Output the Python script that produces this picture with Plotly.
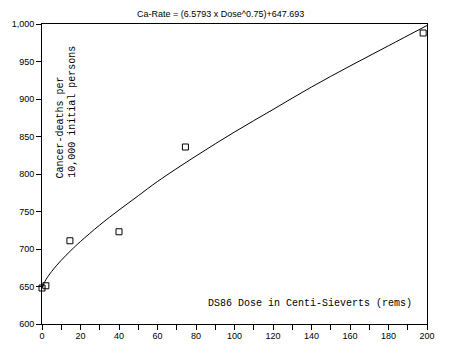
import plotly.graph_objects as go

# Observed data points (dose in cSv, cancer deaths per 10,000)
obs_dose = [0, 2, 14.5, 40, 74.5, 198]
obs_rate = [648, 651, 711, 723, 836, 988]

# Fitted curve values
fit_dose = [0, 1, 2, 5, 10, 15, 20, 30, 40, 50, 60, 80, 100, 120, 140, 160, 180, 200]
fit_rate = [648, 654, 659, 670, 685, 698, 710, 732, 752, 771, 790, 824, 856, 886, 916, 944, 971, 998]

y_ticks = [600, 650, 700, 750, 800, 850, 900, 950, 1000]
y_labels = ["600", "650", "700", "750", "800", "850", "900", "950", "1,000"]
x_ticks = [0, 20, 40, 60, 80, 100, 120, 140, 160, 180, 200]

title_text = "Ca-Rate = (6.5793 x Dose^0.75)+647.693"
x_title = "DS86 Dose in Centi-Sieverts (rems)"
y_title1 = "Cancer-deaths per"
y_title2 = "10,000 initial persons"

fig = go.Figure()
fig.add_trace(go.Scatter(x=fit_dose, y=fit_rate, mode="lines",
                         line=dict(color="black", width=1, shape="spline"),
                         showlegend=False, hoverinfo="skip"))
fig.add_trace(go.Scatter(x=obs_dose, y=obs_rate, mode="markers",
                         marker=dict(symbol="square-open", size=6, color="black",
                                     line=dict(width=1, color="black")),
                         showlegend=False, cliponaxis=False))

tick_font = dict(family="Liberation Sans", size=9, color="black")
mono = dict(family="Liberation Mono", size=10, color="black")

fig.update_layout(
    width=452, height=354,
    margin=dict(l=38, r=25, t=24, b=30),
    paper_bgcolor="white", plot_bgcolor="white",
    xaxis=dict(range=[0, 200], tickvals=x_ticks, ticks="outside", ticklen=5,
               tickwidth=1, tickcolor="black", showline=True, linecolor="black",
               linewidth=1, mirror=True, showgrid=False, zeroline=False,
               tickfont=tick_font, ticklabelstandoff=-2,
               minor=dict(dtick=10, tick0=0, ticks="outside", ticklen=5,
                          tickcolor="black", tickwidth=1, showgrid=False)),
    yaxis=dict(range=[600, 1000], tickvals=y_ticks, ticktext=y_labels,
               ticks="outside", ticklen=5, tickwidth=1, tickcolor="black",
               showline=True, linecolor="black", linewidth=1, mirror=True,
               showgrid=False, zeroline=False, tickfont=tick_font),
    annotations=[
        dict(text=title_text, xref="paper", yref="paper", x=0.463, y=1.033,
             xanchor="center", yanchor="middle", showarrow=False,
             font=dict(family="Liberation Sans", size=9, color="black")),
        dict(text=x_title, xref="paper", yref="paper", x=0.697, y=0.0667,
             xanchor="center", yanchor="middle", showarrow=False, font=mono),
        dict(text=y_title1, xref="paper", yref="paper", x=0.048, y=0.48,
             xanchor="center", yanchor="bottom", textangle=-90,
             showarrow=False, font=mono),
        dict(text=y_title2, xref="paper", yref="paper", x=0.0775, y=0.48,
             xanchor="center", yanchor="bottom", textangle=-90,
             showarrow=False, font=mono),
    ],
)

fig.write_html("out.html")
